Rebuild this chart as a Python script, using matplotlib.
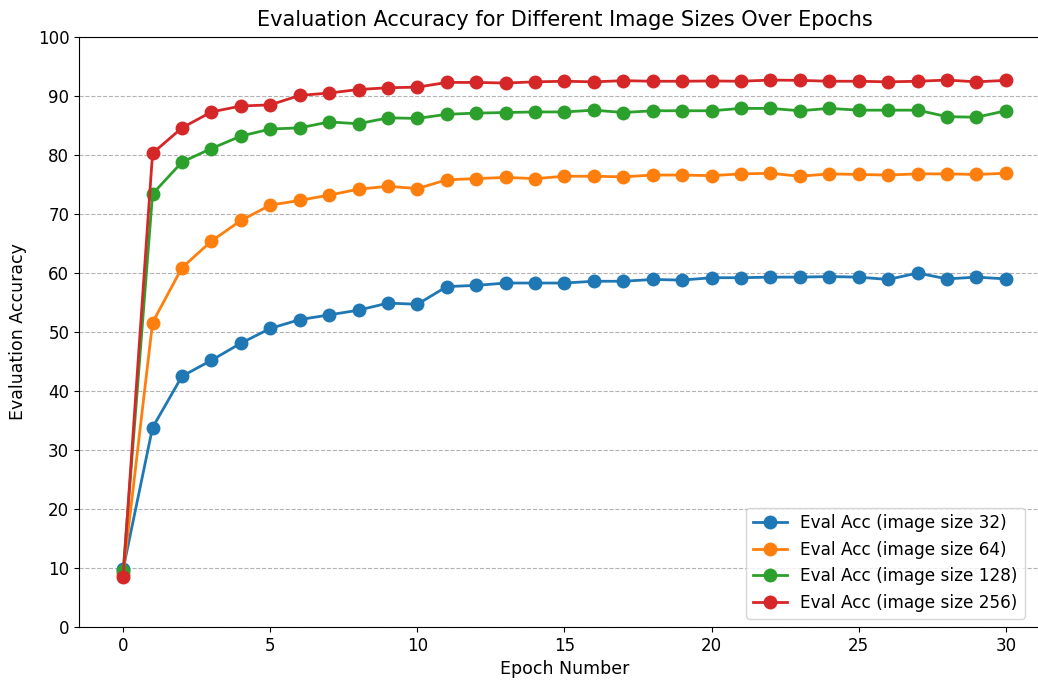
import matplotlib
matplotlib.use("Agg")
import matplotlib.pyplot as plt

epochs = list(range(31))

acc_32 = [9.8, 33.8, 42.5, 45.2, 48.1, 50.6, 52.1, 52.9, 53.7, 54.9, 54.7,
          57.7, 57.9, 58.3, 58.3, 58.3, 58.6, 58.6, 58.9, 58.8, 59.2,
          59.2, 59.3, 59.3, 59.4, 59.3, 58.9, 60.0, 59.0, 59.3, 59.0]
acc_64 = [9.0, 51.6, 60.9, 65.4, 68.9, 71.5, 72.3, 73.2, 74.2, 74.7, 74.3,
          75.8, 76.0, 76.2, 76.0, 76.4, 76.4, 76.3, 76.6, 76.6, 76.5,
          76.8, 76.9, 76.4, 76.8, 76.7, 76.6, 76.8, 76.8, 76.7, 76.9]
acc_128 = [9.5, 73.4, 78.8, 81.1, 83.2, 84.4, 84.6, 85.6, 85.3, 86.3, 86.2,
           86.9, 87.1, 87.2, 87.3, 87.3, 87.6, 87.2, 87.5, 87.5, 87.5,
           87.9, 87.9, 87.5, 87.9, 87.6, 87.6, 87.6, 86.5, 86.4, 87.5]
acc_256 = [8.5, 80.3, 84.6, 87.3, 88.3, 88.5, 90.1, 90.5, 91.1, 91.4, 91.5,
           92.3, 92.3, 92.2, 92.4, 92.5, 92.4, 92.6, 92.5, 92.5, 92.55,
           92.5, 92.7, 92.65, 92.5, 92.5, 92.4, 92.5, 92.7, 92.4, 92.65]

series = [(acc_32, "Eval Acc (image size 32)", "#1f77b4"),
          (acc_64, "Eval Acc (image size 64)", "#ff7f0e"),
          (acc_128, "Eval Acc (image size 128)", "#2ca02c"),
          (acc_256, "Eval Acc (image size 256)", "#d62728")]

fig = plt.figure(figsize=(10.38, 6.81), dpi=100)
ax = fig.add_axes([79/1038, 1 - 627/681, (1050 - 79)/1038, (627 - 37)/681])

for vals, label, color in series:
    ax.plot(epochs, vals, marker="o", markersize=9, linewidth=2, color=color, label=label)

ax.set_xlim(-1.5, 31.5)
ax.set_ylim(0, 100)
ax.set_xticks(range(0, 31, 5))
ax.set_yticks(range(0, 101, 10))
ax.tick_params(labelsize=12)
ax.spines["right"].set_visible(False)
ax.yaxis.grid(True, linestyle="--", color="gray", alpha=0.6, linewidth=0.8)
ax.set_axisbelow(True)
ax.set_title("Evaluation Accuracy for Different Image Sizes Over Epochs", fontsize=15, pad=8)
ax.set_xlabel("Epoch Number", fontsize=12.5)
ax.set_ylabel("Evaluation Accuracy", fontsize=12.5, labelpad=8)
ax.legend(loc="lower right", fontsize=12.2, bbox_to_anchor=((1033 - 79) / 971, 0.0))

fig.savefig("out.png", dpi=100)
